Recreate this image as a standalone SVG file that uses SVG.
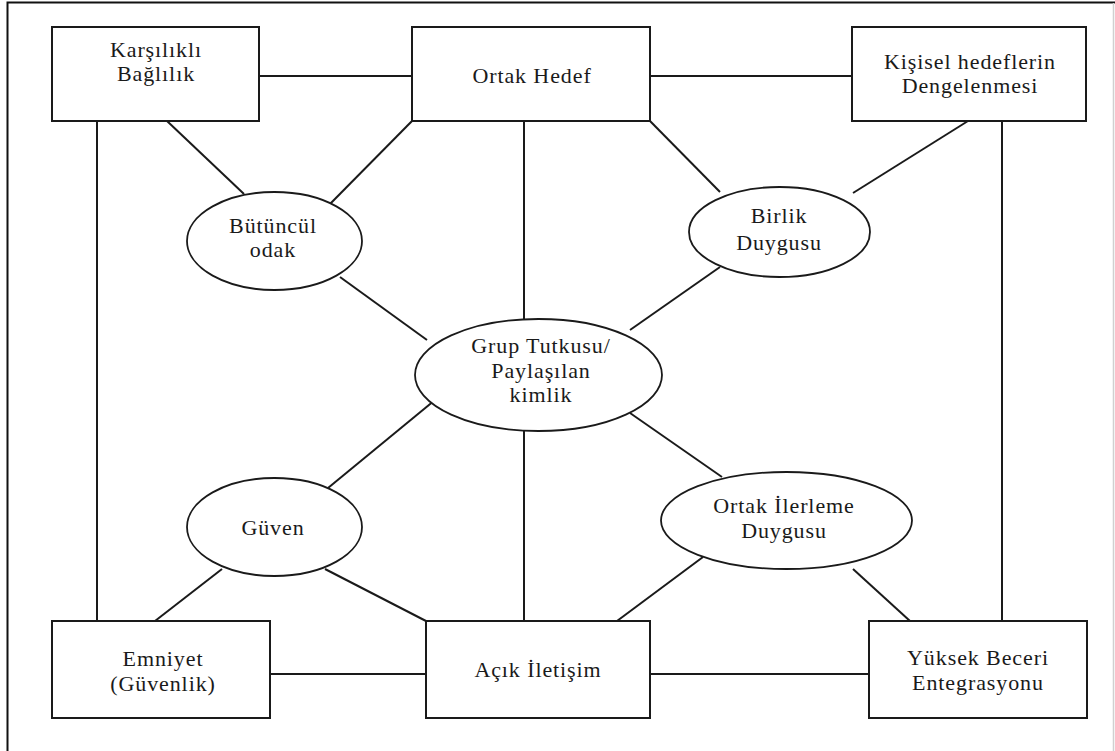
<svg xmlns="http://www.w3.org/2000/svg" width="1115" height="751" viewBox="0 0 1115 751">
  <style>
    .box { fill: #fff; stroke: #1a1a1a; stroke-width: 2; }
    .oval { fill: #fff; stroke: #1a1a1a; stroke-width: 1.8; }
    .link { stroke: #1a1a1a; stroke-width: 2; fill: none; }
    .frame { stroke: #111; stroke-width: 2; fill: none; }
    text { font-family: "Liberation Serif", "Times New Roman", serif; font-size: 22px; fill: #1a1a1a; text-anchor: middle; letter-spacing: 0.9px; }
  </style>
  <rect width="1115" height="751" fill="#fff"/>
  <!-- page frame -->
  <path class="frame" d="M7.5,751 V2.5 H1115"/>
  <line x1="1113.5" y1="3" x2="1113.5" y2="751" stroke="#d0d0d0" stroke-width="1.5"/>

  <!-- connectors -->
  <g id="connectors">
    <line class="link" x1="259" y1="76" x2="412" y2="76"/>
    <line class="link" x1="650" y1="76" x2="852" y2="76"/>
    <line class="link" x1="97" y1="121" x2="97" y2="621"/>
    <line class="link" x1="1002" y1="121" x2="1002" y2="621"/>
    <line class="link" x1="524" y1="121" x2="524" y2="319"/>
    <line class="link" x1="524" y1="431" x2="524" y2="621"/>
    <line class="link" x1="167" y1="121" x2="244" y2="194"/>
    <line class="link" x1="412" y1="121" x2="330" y2="204"/>
    <line class="link" x1="650" y1="121" x2="720" y2="192"/>
    <line class="link" x1="968" y1="121" x2="853" y2="193"/>
    <line class="link" x1="340" y1="277" x2="427" y2="340"/>
    <line class="link" x1="720" y1="267" x2="630" y2="330"/>
    <line class="link" x1="435" y1="400" x2="328" y2="488"/>
    <line class="link" x1="630" y1="413" x2="722" y2="477"/>
    <line class="link" x1="222" y1="569" x2="155" y2="621"/>
    <line class="link" x1="325" y1="569" x2="426" y2="621"/>
    <line class="link" x1="703" y1="557" x2="617" y2="621"/>
    <line class="link" x1="853" y1="569" x2="910" y2="621"/>
    <line class="link" x1="270" y1="674" x2="426" y2="674"/>
    <line class="link" x1="650" y1="674" x2="869" y2="674"/>
  </g>

  <g id="karsilikli-baglilik">
    <rect class="box" x="52" y="27" width="207" height="94"/>
    <text x="156" y="57">Karşılıklı</text>
    <text x="156" y="81">Bağlılık</text>
  </g>
  <g id="ortak-hedef">
    <rect class="box" x="412" y="27" width="238" height="94"/>
    <text x="532" y="83">Ortak Hedef</text>
  </g>
  <g id="kisisel-hedefler">
    <rect class="box" x="852" y="27" width="234" height="94"/>
    <text x="970" y="69">Kişisel hedeflerin</text>
    <text x="970" y="93">Dengelenmesi</text>
  </g>

  <g id="butuncul-odak">
    <ellipse class="oval" cx="274.5" cy="241" rx="87.5" ry="49"/>
    <text x="273" y="233">Bütüncül</text>
    <text x="273" y="257">odak</text>
  </g>
  <g id="birlik-duygusu">
    <ellipse class="oval" cx="779.5" cy="232" rx="90.5" ry="45"/>
    <text x="779" y="223">Birlik</text>
    <text x="779" y="250">Duygusu</text>
  </g>
  <g id="grup-tutkusu">
    <ellipse class="oval" cx="538.5" cy="375" rx="123.5" ry="56"/>
    <text x="541" y="353">Grup Tutkusu/</text>
    <text x="541" y="378">Paylaşılan</text>
    <text x="541" y="402">kimlik</text>
  </g>
  <g id="guven">
    <ellipse class="oval" cx="274.5" cy="527" rx="87.5" ry="49"/>
    <text x="273" y="535">Güven</text>
  </g>
  <g id="ortak-ilerleme">
    <ellipse class="oval" cx="786.5" cy="520.5" rx="125.5" ry="48.5"/>
    <text x="784" y="513">Ortak İlerleme</text>
    <text x="784" y="538">Duygusu</text>
  </g>

  <g id="emniyet">
    <rect class="box" x="52" y="621" width="218" height="97"/>
    <text x="163" y="666">Emniyet</text>
    <text x="163" y="691">(Güvenlik)</text>
  </g>
  <g id="acik-iletisim">
    <rect class="box" x="426" y="621" width="224" height="97"/>
    <text x="538" y="677">Açık İletişim</text>
  </g>
  <g id="yuksek-beceri">
    <rect class="box" x="869" y="621" width="218" height="97"/>
    <text x="978" y="665">Yüksek Beceri</text>
    <text x="978" y="690">Entegrasyonu</text>
  </g>
</svg>
